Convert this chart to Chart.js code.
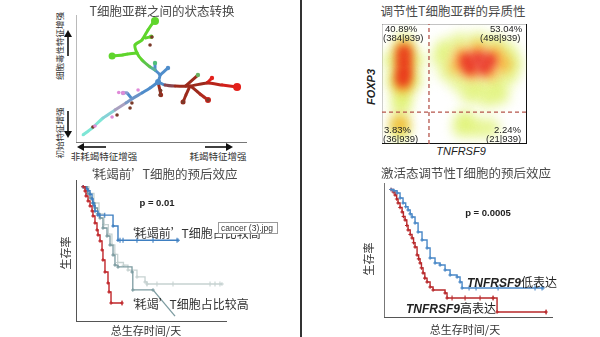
<!DOCTYPE html>
<html><head><meta charset="utf-8">
<script src="https://cdn.jsdelivr.net/npm/chart.js@4.4.1/dist/chart.umd.min.js"></script>
<style>
html,body{margin:0;padding:0;background:#fff;}
body{width:600px;height:337px;position:relative;overflow:hidden;font-family:"Noto Sans CJK SC","Noto Sans",sans-serif;}
.box{position:absolute;}
.lbl{position:absolute;white-space:nowrap;transform:translate(-50%,-50%);line-height:1;color:#333;}
.lft{position:absolute;white-space:nowrap;transform:translate(0,-50%);line-height:1;color:#222;}
.rot{transform:translate(-50%,-50%) rotate(-90deg);}
.ttl{font-size:12.5px;color:#4a4a4a;}
.num{font-family:"Liberation Sans",Arial,sans-serif;font-size:9.5px;color:#222;}
.it{font-family:"Liberation Sans",Arial,sans-serif;font-style:italic;}
.qo{display:inline-block;width:0.9em;text-align:right;}
.qc{display:inline-block;width:0.9em;text-align:left;}
</style></head>
<body>
<div style="position:absolute;left:300px;top:0;width:1.5px;height:337px;background:#333"></div>

<!-- Panel 1 -->
<div class="box" style="left:76px;top:15px;width:171px;height:128px"><canvas id="c1"></canvas></div>
<div class="lbl ttl" style="left:162px;top:11px">T细胞亚群之间的状态转换</div>
<div class="lbl rot" style="left:59px;top:46px;font-size:8.5px;color:#333">细胞毒性特征增强</div>
<div class="lbl rot" style="left:59px;top:133px;font-size:8.5px;color:#333">初始特征增强</div>
<div class="lbl" style="left:104px;top:157px;font-size:9.5px;color:#333">非耗竭特征增强</div>
<div class="lbl" style="left:218px;top:157px;font-size:9.5px;color:#333">耗竭特征增强</div>
<svg style="position:absolute;left:0;top:0" width="300" height="170">
 <g stroke="#111" stroke-width="1.6" fill="#111">
  <line x1="68" y1="56" x2="68" y2="36"/><polygon points="64,37 72,37 68,30" stroke="none"/>
  <line x1="68" y1="111" x2="68" y2="132"/><polygon points="64,131 72,131 68,138" stroke="none"/>
  <line x1="106" y1="147" x2="83" y2="147"/><polygon points="84,143 84,151 77,147" stroke="none"/>
  <line x1="205" y1="147" x2="227" y2="147"/><polygon points="226,143 226,151 233,147" stroke="none"/>
 </g>
</svg>

<!-- Panel 2 -->
<div class="box" style="left:382px;top:24px;width:145px;height:120px"><canvas id="c2"></canvas></div>
<div class="lbl ttl" style="left:453px;top:11px">调节性T细胞亚群的异质性</div>
<div class="lbl rot it" style="left:371px;top:87px;font-size:11px;font-weight:bold;color:#222">FOXP3</div>
<div class="lbl it" style="left:461px;top:151px;font-size:11px;color:#222">TNFRSF9</div>
<div class="lft num" style="left:385px;top:29px">40.89%</div>
<div class="lft num" style="left:383px;top:38px">(384|939)</div>
<div class="lft num" style="left:490px;top:29px">53.04%</div>
<div class="lft num" style="left:480px;top:38px">(498|939)</div>
<div class="lft num" style="left:384px;top:130px">3.83%</div>
<div class="lft num" style="left:383px;top:139px">(36|939)</div>
<div class="lft num" style="left:494px;top:130px">2.24%</div>
<div class="lft num" style="left:486px;top:139px">(21|939)</div>

<!-- Panel 3 -->
<div class="box" style="left:76px;top:180px;width:151px;height:142px"><canvas id="c3"></canvas></div>
<div class="lbl ttl" style="left:160px;top:174px"><span class="qo">‘</span>耗竭前<span class="qc">’</span>T细胞的预后效应</div>
<div class="lbl num" style="left:157px;top:203px;font-weight:bold;font-size:9.5px">p = 0.01</div>
<div class="lft" style="left:124px;top:233px;font-size:12px;color:#333"><span class="qo">‘</span>耗竭前<span class="qc">’</span>T细胞占比较高</div>
<div class="lft" style="left:124px;top:304px;font-size:12px;color:#333"><span class="qo">‘</span>耗竭<span class="qc">’</span>T细胞占比较高</div>
<div style="position:absolute;left:218px;top:222px;width:60px;height:12px;background:#fff;border:1px solid #9a9a9a;box-sizing:border-box;font-family:'Liberation Sans',Arial,sans-serif;font-size:8.5px;color:#333;line-height:10px;padding-left:2px;white-space:nowrap;overflow:hidden">cancer (3).jpg</div>
<div class="lbl rot" style="left:65px;top:253px;font-size:11px;color:#333">生存率</div>
<div class="lbl" style="left:146px;top:330px;font-size:11px;color:#333">总生存时间/天</div>

<!-- Panel 4 -->
<div class="box" style="left:384px;top:183px;width:169px;height:135px"><canvas id="c4"></canvas></div>
<div class="lbl ttl" style="left:466px;top:173px">激活态调节性T细胞的预后效应</div>
<div class="lbl num" style="left:488px;top:213px;font-weight:bold;font-size:9.5px">p = 0.0005</div>
<div class="lft" style="left:467px;top:282px;font-size:12px;color:#222"><span class="it" style="font-weight:bold">TNFRSF9</span>低表达</div>
<div class="lft" style="left:406px;top:308px;font-size:12px;color:#222"><span class="it" style="font-weight:bold">TNFRSF9</span>高表达</div>
<div class="lbl rot" style="left:368px;top:259px;font-size:11px;color:#333">生存率</div>
<div class="lbl" style="left:465px;top:329px;font-size:11px;color:#333">总生存时间/天</div>

<script>
// ================= DATA =================
// Panel 1: trajectory branches (component 1 / component 2, 0-100)
const trunkC1 = [4.1, 9.4, 15.8, 22.8, 29.2, 32.7, 38.6, 43.3, 48.0];
const trunkC2 = [6.3, 11.7, 19.5, 25.8, 31.3, 34.4, 39.1, 43.0, 47.7];
const upC1 = [48.0, 49.1, 46.2, 43.3, 38.6, 35.7, 34.5, 38.6, 42.1, 45.0, 46.2];
const upC2 = [47.7, 53.1, 57.0, 59.4, 64.8, 70.3, 76.6, 80.5, 88.3, 93.8, 95.3];
const greenLeftC1 = [35.7, 30.0, 27.5, 21.1];
const greenLeftC2 = [70.3, 69.5, 68.8, 68.0];
const redC1 = [48.0, 52.0, 57.9, 66.7, 76.6, 85.4, 94.2];
const redC2 = [47.7, 45.3, 44.5, 44.5, 46.9, 45.3, 43.8];
const sub1C1 = [66.7, 64.3, 62.6];  const sub1C2 = [44.5, 37.5, 32.0];
const sub2C1 = [67.5, 72.5, 77.2];  const sub2C2 = [44.0, 38.3, 33.6];
const sub3C1 = [64.0, 71.3];        const sub3C2 = [44.5, 53.1];
const sub4C1 = [76.6, 79.5];        const sub4C2 = [46.9, 50.8];
const sideC1 = [32.7, 29.8, 27.5];  const sideC2 = [34.4, 39.1, 39.1];
const twigAC1 = [49.1, 53.8];       const twigAC2 = [53.1, 58.6];
const twigBC1 = [46.2, 46.2];       const twigBC2 = [57.0, 62.5];
const twigCC1 = [48.0, 49.7];       const twigCC2 = [47.7, 37.5];
const twigDC1 = [40.5, 44.0];       const twigDC2 = [82.0, 83.0];
const pinkCellsC1 = [21.1, 27.5, 36.3, 11.1, 25.0];
const pinkCellsC2 = [20.3, 39.1, 41.4, 13.3, 39.5];
const brownCellsC1 = [32.7, 31.6, 9.9, 24.0, 49.1, 44.4, 43.3, 62.6, 77.2, 49.5];
const brownCellsC2 = [31.3, 27.3, 12.5, 21.9, 37.5, 82.8, 76.6, 32.0, 33.6, 41.0];

// Panel 2: density blob centres (TNFRSF9, FOXP3), by density level
const outerX = [0.76,0.76,0.76,0.76,0.72,0.69,0.66,0.34,1.14,0.45,1.07, 2.17,2.69,3.31,3.90,4.34,4.52,4.34,3.90,3.31,2.69,2.28,2.07,3.62,3.03,4.07, 0.62,0.62, 2.86,2.76,3.24,3.72];
const outerY = [4.25,3.83,3.33,2.83,2.33,1.92,1.58,3.50,3.50,2.67,2.67, 4.00,4.25,4.29,4.17,3.83,3.33,2.83,2.50,2.42,2.58,3.00,3.58,1.92,2.08,2.04, 0.83,0.50, 1.04,0.67,0.67,0.67];
const midX = [0.76,0.76,0.76,0.72, 2.76,3.31,3.90,4.17,3.72,3.10,2.62, 0.62];
const midY = [3.92,3.42,2.92,2.46, 3.71,3.92,3.75,3.33,3.00,3.00,3.25, 0.83];
const highX = [0.76,0.76,0.76,0.72, 2.90,3.31,3.72,3.52,3.03];
const highY = [3.83,3.42,3.00,2.67, 3.50,3.58,3.50,3.17,3.17];
const thrTNFRSF9 = 1.62, thrFOXP3 = 1.33;

// Panel 3: Kaplan-Meier (days, survival)
const preExhHighT = [0, 40, 67, 95, 123, 136, 150, 164, 206, 415, 484, 1320];
const preExhHighS = [1, 0.985, 0.97, 0.945, 0.91, 0.88, 0.86, 0.82, 0.79, 0.71, 0.605, 0.605];
const preExhCensT = [230, 300, 512, 554, 748, 971, 1305];
const preExhCensS = [0.79, 0.79, 0.605, 0.605, 0.605, 0.605, 0.605];
const exhHighT = [0, 25, 39, 67, 95, 123, 136, 164, 192, 206, 234, 262, 275, 303, 345, 359, 387, 540];
const exhHighS = [1, 0.969, 0.932, 0.895, 0.858, 0.821, 0.784, 0.732, 0.68, 0.643, 0.599, 0.532, 0.458, 0.37, 0.288, 0.222, 0.14, 0.14];
const midGrayT = [0, 60, 95, 130, 164, 200, 234, 275, 331, 373, 415, 442, 484, 679, 690, 971];
const midGrayS = [1, 0.95, 0.917, 0.88, 0.843, 0.80, 0.769, 0.695, 0.636, 0.569, 0.495, 0.421, 0.407, 0.37, 0.237, 0.237];
const midGrayTailT = [971, 1277];
const midGrayTailS = [0.237, 0.044];
const lightGrayT = [0, 80, 150, 220, 290, 350, 400, 440, 480, 560, 623, 748, 860, 887, 1930];
const lightGrayS = [1, 0.95, 0.88, 0.80, 0.72, 0.65, 0.57, 0.50, 0.44, 0.42, 0.384, 0.333, 0.296, 0.281, 0.281];
const lightGrayCensT = [887, 1026, 1249, 1764, 1833, 1902];

// Panel 4: Kaplan-Meier TNFRSF9
const lowT = [0, 50, 107, 160, 213, 260, 302, 340, 373, 426, 480, 550, 639, 693, 781, 870, 959, 1048, 1172, 1225, 1261, 2698];
const lowS = [1, 0.99, 0.972, 0.933, 0.894, 0.865, 0.84, 0.81, 0.786, 0.739, 0.669, 0.607, 0.544, 0.467, 0.428, 0.412, 0.373, 0.334, 0.319, 0.28, 0.233, 0.233];
const lowCensT = [1385, 1509, 1900, 2556, 2680];
const highT = [0, 40, 71, 100, 124, 160, 196, 220, 249, 280, 302, 340, 373, 400, 426, 462, 490, 515, 540, 568, 600, 639, 693, 746, 959, 994, 1811, 1882, 2752];
const highS = [1, 0.98, 0.957, 0.925, 0.894, 0.86, 0.824, 0.79, 0.762, 0.72, 0.684, 0.65, 0.622, 0.585, 0.552, 0.49, 0.46, 0.428, 0.39, 0.35, 0.31, 0.28, 0.241, 0.218, 0.194, 0.156, 0.156, 0.047, 0.047];
const highCensT = [1083, 1314, 1580, 1811];

// ================= HELPERS =================
const pts = (xs, ys) => xs.map((x, i) => ({x, y: ys[i]}));
const constPts = (xs, y) => xs.map(x => ({x, y}));
const hiddenScale = (min, max, pos, border) => ({
  type: 'linear', position: pos, min, max,
  ticks: {display: false}, grid: {display: false, drawTicks: false},
  border: border ? {display: true, color: border.color, width: border.width} : {display: false}
});
const base = (scales) => ({
  responsive: true, maintainAspectRatio: false, animation: false,
  layout: {padding: 0, autoPadding: false},
  plugins: {legend: {display: false}, tooltip: {enabled: false}, title: {display: false}},
  events: [], scales
});
const blurPlugin = {
  id: 'blurPlugin',
  beforeDatasetDraw(chart, args) { const b = chart.data.datasets[args.index].blur; if (b) { chart.ctx.save(); chart.ctx.filter = 'blur(' + b + 'px)'; } },
  afterDatasetDraw(chart, args) { if (chart.data.datasets[args.index].blur) chart.ctx.restore(); }
};

// ================= PANEL 1 =================
const CY = '#7ee6d6', BL = '#4f8dcb', GR = '#5fd52c', DR = '#9c2a1c', RD = '#e3201b';
function branch(c1, c2, colors, endR) {
  return {
    type: 'line', data: pts(c1, c2), borderWidth: 3, tension: 0.2,
    segment: {borderColor: ctx => colors[ctx.p0DataIndex]},
    borderColor: colors[0],
    pointRadius: ctx => (endR && ctx.dataIndex === c1.length - 1) ? endR : 1.4,
    pointBackgroundColor: ctx => colors[Math.min(ctx.dataIndex, colors.length - 1)],
    pointBorderWidth: 0
  };
}
new Chart(document.getElementById('c1'), {
  type: 'line',
  data: {datasets: [
    {type: 'scatter', data: pts(pinkCellsC1, pinkCellsC2), pointRadius: 1.8, pointBackgroundColor: '#e08ad8', pointBorderWidth: 0},
    {type: 'scatter', data: pts(brownCellsC1, brownCellsC2), pointRadius: 1.8, pointBackgroundColor: '#7a3a2a', pointBorderWidth: 0},
    branch(trunkC1, trunkC2, [CY, CY, '#86d2d6', '#a9a0c0', '#7a98c4', '#6a92c6', BL, BL, BL], 3),
    branch(upC1, upC2, [BL, BL, '#58b29a', '#5cc34c', GR, GR, GR, GR, GR, GR, GR], 4),
    branch(greenLeftC1, greenLeftC2, [GR, GR, GR, GR], 3.5),
    branch(redC1, redC2, [BL, '#8a4650', DR, DR, '#b8241a', '#d2201a', RD], 4),
    branch(sub1C1, sub1C2, [DR, DR, DR], 2.5),
    branch(sub2C1, sub2C2, [DR, '#b02a1e', '#c8241c'], 3),
    branch(sub3C1, sub3C2, [DR, '#6bb060'], 2.2),
    branch(sub4C1, sub4C2, [RD, RD], 2.2),
    branch(sideC1, sideC2, [BL, '#8a9ad0', '#c896d8'], 2.2),
    branch(twigAC1, twigAC2, [BL, BL], 2.2),
    branch(twigBC1, twigBC2, [BL, '#4fbf7a'], 2.2),
    branch(twigCC1, twigCC2, [DR, DR], 2.2),
    branch(twigDC1, twigDC2, [GR, GR], 2.2)
  ]},
  options: base({
    x: hiddenScale(0, 100, 'bottom', {color: '#777', width: 1.5}),
    y: hiddenScale(0, 100, 'left', {color: '#777', width: 1.5})
  })
});

// ================= PANEL 2 =================
new Chart(document.getElementById('c2'), {
  type: 'scatter',
  data: {datasets: [
    {type: 'line', data: [{x: thrTNFRSF9, y: 0}, {x: thrTNFRSF9, y: 5}], borderColor: '#b5564c', borderWidth: 1.3, borderDash: [4, 3], pointRadius: 0},
    {type: 'line', data: [{x: 0, y: thrFOXP3}, {x: 5, y: thrFOXP3}], borderColor: '#b5564c', borderWidth: 1.3, borderDash: [4, 3], pointRadius: 0},
    {data: pts(highX, highY), pointRadius: 7.5, backgroundColor: 'rgba(232,30,22,0.85)', borderWidth: 0, blur: 5},
    {data: pts(midX, midY), pointRadius: 9, backgroundColor: 'rgba(248,165,30,0.75)', borderWidth: 0, blur: 5.5},
    {data: pts(outerX, outerY), pointRadius: 10, backgroundColor: 'rgba(214,238,70,0.55)', borderWidth: 0, blur: 6}
  ]},
  options: base({
    x: hiddenScale(0, 5, 'bottom', {color: '#111', width: 1.2}),
    y: hiddenScale(0, 5, 'left', {color: '#111', width: 1.2}),
    x2: hiddenScale(0, 5, 'top', {color: '#111', width: 1.2}),
    y2: hiddenScale(0, 5, 'right', {color: '#111', width: 1.2})
  }),
  plugins: [blurPlugin]
});

// ================= KM helpers =================
function km(t, s, color, width, marker) {
  return {type: 'line', data: pts(t, s), stepped: 'before', borderColor: color, borderWidth: width || 1.3,
    pointRadius: marker ? 1.8 : 0, pointStyle: 'cross', pointBorderColor: color, pointBorderWidth: 1.1};
}
function cens(t, s, color) {
  return {type: 'scatter', data: Array.isArray(s) ? pts(t, s) : constPts(t, s), pointStyle: 'line', rotation: 90,
    pointRadius: 2.5, borderColor: color, pointBorderColor: color, borderWidth: 1.1, showLine: false};
}

// ================= PANEL 3 =================
const B3 = '#3e7fc1', R3 = '#c0262a', G3 = '#7c9ba0', L3 = '#c6d2d1';
new Chart(document.getElementById('c3'), {
  type: 'line',
  data: {datasets: [
    km(exhHighT, exhHighS, R3, 1.4, true),
    cens([540], [0.14], R3),
    km(preExhHighT, preExhHighS, B3, 1.4, true),
    cens(preExhCensT, preExhCensS, B3),
    km(midGrayT, midGrayS, G3, 1.3, true),
    {type: 'line', data: pts(midGrayTailT, midGrayTailS), borderColor: G3, borderWidth: 1.3, pointRadius: 0},
    km(lightGrayT, lightGrayS, L3, 1.3, true),
    cens(lightGrayCensT, 0.281, L3)
  ]},
  options: base({
    x: hiddenScale(-100, 2000, 'bottom', {color: '#555', width: 2}),
    y: hiddenScale(0, 1.05, 'left', {color: '#555', width: 2})
  })
});

// ================= PANEL 4 =================
const B4 = '#4a88c7', R4 = '#b8282a';
new Chart(document.getElementById('c4'), {
  type: 'line',
  data: {datasets: [
    km(lowT, lowS, B4, 1.4, true),
    cens(lowCensT, 0.233, B4),
    km(highT, highS, R4, 1.4, true),
    cens(highCensT, 0.156, R4),
    cens([2752], 0.047, R4)
  ]},
  options: base({
    x: hiddenScale(-125, 2875, 'bottom', {color: '#555', width: 1.8}),
    y: hiddenScale(0, 1.05, 'left', {color: '#555', width: 1.8})
  })
});
</script>
</body></html>
